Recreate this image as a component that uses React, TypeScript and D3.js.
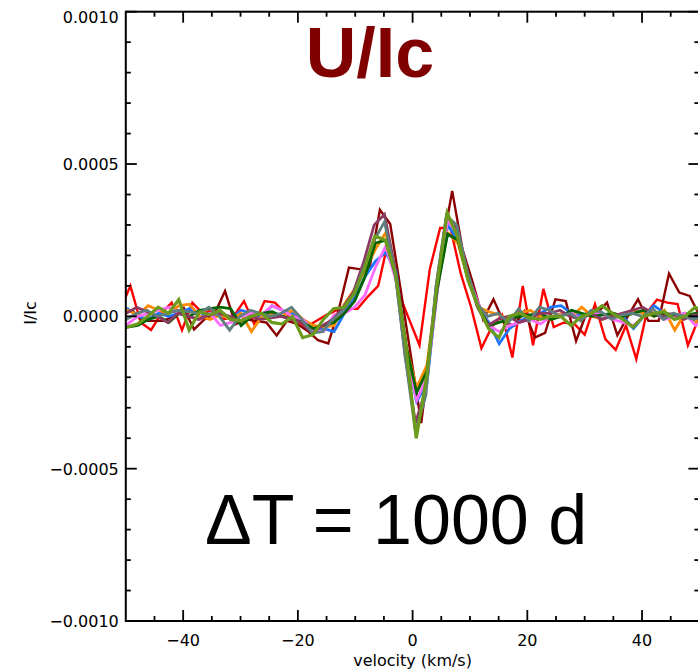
import React from "react";
import * as d3 from "d3";

// ---------- data (values in units of 1e-4 I/Ic) ----------
const valueUnit = 1e-4;
const velocityStep = 1.8; // km/s
const gridSteps = d3.range(-29, 29); // 58 velocity bins

const seriesNames = ["red", "darkred", "blue", "orange", "pink", "darkgreen", "purple", "gray", "olive"];
const seriesColors = ["#ff0000", "#8b0000", "#1c74ff", "#ff8a00", "#ff6cff", "#006400", "#8b3a62", "#5f7f7f", "#6b9a1c"];
const seriesWidths = [2.4, 2.4, 2.8, 2.8, 2.8, 2.8, 2.8, 2.8, 3.2];
const seriesShift = [1.2, 1.5, 0.7, 0.7, 0.7, 0.7, 0.5, 0.5, 0.64]; // km/s

const redU = [
  0.2, 1.0, -0.2, -0.45, 0.1, 0.45, -0.45, 0.45, 0.1, 0.2,
  -0.1, 0.0, 0.5, -0.25, 0.5, 0.45, 0.1, -0.1, -0.35, -0.15,
  0.05, 0.2, 0.25, 0.25, 0.65, 1.0, 2.5, 0.75, -0.1, -0.95,
  1.55, 2.9, 2.9, 1.4, 0.3, -1.05, -0.35, 0.05, -1.35, 1.0,
  -0.95, 0.9, -0.35, -0.2, -0.25, -0.6, 0.4, -0.75, -1.1, -0.3,
  -1.4, 0.1, 0.55, 0.45, 0.4, -0.95, -0.1, 0.0,
];
const darkRedU = [
  0.1, 0.2, -0.15, -0.15, -0.15, 0.0, 0.28, -0.43, -0.1, 0.1,
  0.83, -0.26, -0.1, -0.15, -0.2, -0.63, -0.15, -0.25, -0.48, -0.78,
  -0.89, 0.2, 1.6, 1.55, 1.6, 3.5, 3.03, 0.9, -1.3, -3.5,
  -0.8, 2.2, 4.12, 2.2, 1.1, -0.1, 0.56, -0.2, -0.3, 0.17,
  -0.7, -0.54, 0.56, 0.5, -0.81, 0.1, 0.1, 0.45, -0.62, 0.0,
  0.56, -0.15, -0.15, 1.4, 0.78, 0.67, 0.0, 0.1,
];
const blueU = [
  0.2, 0.25, 0.0, -0.1, 0.1, 0.0, 0.1, 0.25, 0.0, 0.1,
  0.05, -0.1, 0.2, 0.1, 0.0, 0.35, 0.2, 0.1, -0.2, -0.5,
  -0.4, -0.5, 0.1, 0.6, 1.3, 1.8, 2.1, 1.5, -1.2, -2.8,
  -2.2, 0.9, 3.0, 2.5, 1.2, 0.3, -0.2, -0.9, -0.4, -0.15,
  0.0, 0.1, 0.3, 0.35, 0.1, 0.0, 0.15, -0.1, 0.1, 0.0,
  -0.4, 0.0, 0.35, 0.1, 0.0, 0.1, -0.05, 0.05,
];
const orangeU = [
  0.1, 0.2, 0.05, 0.35, 0.2, 0.1, 0.35, 0.4, 0.0, -0.1,
  0.05, -0.1, 0.1, -0.5, 0.0, 0.1, 0.0, 0.2, -0.1, -0.3,
  -0.35, -0.3, 0.4, 0.9, 1.5, 2.2, 2.75, 1.2, -1.0, -2.35,
  -1.6, 1.0, 2.75, 2.4, 1.2, 0.3, 0.15, 0.05, -0.1, 0.1,
  0.2, 0.0, -0.1, 0.1, 0.0, 0.3, 0.0, -0.1, 0.1, 0.0,
  0.2, 0.1, 0.0, 0.2, -0.45, 0.1, -0.2, 0.0,
];
const pinkU = [
  -0.4, -0.25, 0.0, 0.1, 0.2, 0.3, 0.1, 0.0, -0.1, 0.1,
  -0.3, -0.2, 0.0, 0.1, 0.05, 0.35, 0.2, 0.0, -0.1, -0.45,
  -0.5, 0.05, 0.1, 0.3, 0.7, 1.6, 2.3, 1.2, -1.2, -2.75,
  -2.0, 0.8, 3.15, 2.7, 1.3, 0.4, -0.3, -0.5, -0.3, -0.2,
  -0.1, -0.25, 0.0, 0.05, 0.1, -0.1, 0.15, 0.05, -0.1, -0.2,
  -0.3, 0.0, 0.1, -0.1, 0.0, 0.1, -0.3, -0.1,
];
const darkGreenU = [
  -0.3, -0.35, -0.3, -0.1, 0.0, -0.2, 0.1, 0.0, 0.2, 0.25,
  0.3, 0.25, -0.3, 0.0, 0.1, 0.15, 0.0, -0.1, -0.2, -0.4,
  -0.3, -0.2, 0.1, 0.5, 1.3, 2.4, 2.5, 1.3, -1.0, -2.5,
  -1.8, 0.9, 2.7, 2.5, 1.2, 0.3, -0.3, -0.2, -0.1, 0.0,
  0.05, 0.1, -0.1, 0.0, 0.2, 0.1, 0.0, 0.05, 0.1, 0.0,
  0.1, 0.2, 0.0, 0.1, 0.05, 0.0, 0.1, 0.0,
];
const purpleU = [
  0.0, 0.1, 0.3, 0.15, 0.0, -0.2, 0.1, 0.0, -0.1, 0.05,
  0.1, 0.0, -0.15, 0.0, -0.1, -0.05, 0.0, -0.1, -0.2, -0.55,
  -0.3, -0.1, 0.3, 0.8, 1.8, 3.0, 3.35, 1.6, -1.3, -3.5,
  -2.4, 1.0, 3.3, 2.9, 1.4, 0.3, -0.3, -0.1, 0.0, -0.2,
  -0.1, 0.1, 0.1, 0.2, 0.0, -0.1, 0.1, -0.1, 0.0, 0.1,
  0.2, 0.3, 0.1, 0.0, 0.1, -0.1, 0.05, 0.0,
];
const grayU = [
  -0.2, -0.1, 0.1, 0.2, 0.0, 0.1, 0.2, 0.15, 0.1, 0.3,
  0.0, -0.45, 0.0, 0.2, 0.1, 0.0, 0.1, 0.3, -0.1, -0.55,
  -0.5, -0.1, 0.2, 0.7, 1.6, 2.5, 3.1, 1.5, -1.3, -3.8,
  -2.6, 1.0, 3.3, 3.0, 1.5, 0.4, 0.0, 0.1, -0.2, 0.25,
  -0.15, 0.3, 0.2, 0.0, 0.1, -0.15, 0.2, 0.15, -0.1, 0.05,
  0.1, 0.0, 0.25, -0.1, 0.1, 0.0, -0.1, 0.05,
];
const oliveU = [
  -0.2, -0.35, -0.25, 0.0, 0.3, 0.1, 0.55, -0.45, 0.15, 0.05,
  0.2, -0.1, -0.15, 0.0, 0.1, -0.2, -0.25, 0.0, -0.7, -0.6,
  -0.1, 0.25, 0.3, 0.75, 1.6, 2.64, 2.5, 1.4, -1.0, -4.0,
  -2.0, 1.0, 3.4, 2.6, 1.2, 0.3, -0.4, -0.7, 0.0, 0.1,
  -0.05, -0.1, 0.0, 0.0, -0.3, 0.0, 0.1, 0.35, 0.1, -0.1,
  -0.35, 0.0, 0.1, 0.15, -0.1, 0.0, 0.3, 0.1,
];
const seriesValues = [redU, darkRedU, blueU, orangeU, pinkU, darkGreenU, purpleU, grayU, oliveU];

const xMajorTicks = [-40, -20, 0, 20, 40];
const xMinorTicks = [-45, -35, -30, -25, -15, -10, -5, 5, 10, 15, 25, 30, 35, 45];
const yMajorTicks = [-0.001, -0.0005, 0, 0.0005, 0.001];
const yMinorTicks = [-0.0009, -0.0008, -0.0007, -0.0006, -0.0004, -0.0003, -0.0002, -0.0001,
  0.0001, 0.0002, 0.0003, 0.0004, 0.0006, 0.0007, 0.0008, 0.0009];

const titleText = "U/Ic";
const noteText = "ΔT = 1000 d";
const xLabel = "velocity (km/s)";
const yLabel = "I/Ic";

// ---------- layout ----------
const W = 698, H = 671;
const X0 = 125.8, X1 = 699.4, Y0 = 11.7, Y1 = 621;
const MAJ = 11, MIN = 5;
const axisFont = "'DejaVu Sans', sans-serif";

export default function App() {
  const x = d3.scaleLinear().domain([-50, 50]).range([X0, X1]);
  const y = d3.scaleLinear().domain([-0.001, 0.001]).range([Y1, Y0]);
  const fmtY = d3.format(".4f");
  const line = d3.line<[number, number]>().x(d => x(d[0])).y(d => y(d[1]));

  const paths = seriesValues.map((vals, s) =>
    line(vals.map((v, i) => [gridSteps[i] * velocityStep + seriesShift[s], v * valueUnit]))
  );

  return (
    <svg width={W} height={H} style={{ position: "absolute", left: 0, top: 0, background: "#fff" }}>
      <defs>
        <clipPath id="plotClip">
          <rect x={X0} y={Y0} width={X1 - X0} height={Y1 - Y0} />
        </clipPath>
      </defs>
      <rect x={0} y={0} width={W} height={H} fill="#fff" />
      <g clipPath="url(#plotClip)" fill="none" strokeLinejoin="miter">
        {paths.map((p, s) => (
          <path key={seriesNames[s]} d={p || ""} stroke={seriesColors[s]} strokeWidth={seriesWidths[s]} />
        ))}
      </g>
      {/* frame */}
      <rect x={X0} y={Y0} width={X1 - X0} height={Y1 - Y0} fill="none" stroke="#000" strokeWidth={2} />
      {/* ticks */}
      <g stroke="#000" strokeWidth={1.8}>
        {xMajorTicks.map(t => (
          <g key={"xm" + t}>
            <line x1={x(t)} x2={x(t)} y1={Y1} y2={Y1 - MAJ} />
            <line x1={x(t)} x2={x(t)} y1={Y0} y2={Y0 + MAJ} />
          </g>
        ))}
        {xMinorTicks.map(t => (
          <g key={"xn" + t}>
            <line x1={x(t)} x2={x(t)} y1={Y1} y2={Y1 - MIN} />
            <line x1={x(t)} x2={x(t)} y1={Y0} y2={Y0 + MIN} />
          </g>
        ))}
        {yMajorTicks.map(t => (
          <g key={"ym" + t}>
            <line x1={X0} x2={X0 + MAJ} y1={y(t)} y2={y(t)} />
            <line x1={X1} x2={X1 - MAJ} y1={y(t)} y2={y(t)} />
          </g>
        ))}
        {yMinorTicks.map(t => (
          <g key={"yn" + t}>
            <line x1={X0} x2={X0 + MIN} y1={y(t)} y2={y(t)} />
            <line x1={X1} x2={X1 - MIN} y1={y(t)} y2={y(t)} />
          </g>
        ))}
      </g>
      {/* tick labels */}
      <g fontFamily={axisFont} fontSize={16} fill="#000">
        {xMajorTicks.map(t => (
          <text key={"xl" + t} x={x(t)} y={646} textAnchor="middle">{d3.format("d")(t)}</text>
        ))}
        {yMajorTicks.map(t => (
          <text key={"yl" + t} x={X0 - 7} y={Math.max(y(t) + 6, 23)} textAnchor="end">{fmtY(t)}</text>
        ))}
        <text x={(X0 + X1) / 2} y={666} textAnchor="middle">{xLabel}</text>
        <text transform={`translate(36, ${313}) rotate(-90)`} textAnchor="middle">{yLabel}</text>
      </g>
      <text x={370} y={77} textAnchor="middle" fontFamily="'Liberation Sans', Arial, sans-serif"
        fontWeight="bold" fontSize={70} fill="#800000">{titleText}</text>
      <text x={205} y={544} textAnchor="start" fontFamily="'Liberation Sans', Arial, sans-serif"
        fontSize={70} fill="#000">{noteText}</text>
    </svg>
  );
}
